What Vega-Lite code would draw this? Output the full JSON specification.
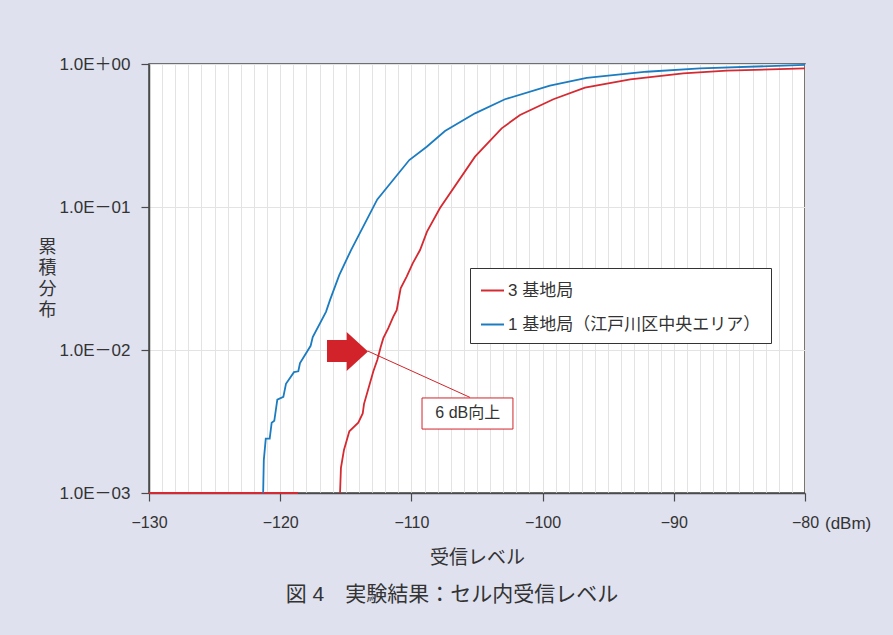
{
  "$schema": "https://vega.github.io/schema/vega-lite/v6.json",
  "width": 656,
  "height": 429,
  "autosize": {"type": "none"},
  "padding": {"left": 149, "top": 64, "right": 88, "bottom": 142},
  "background": "#dfe1ef",
  "config": {
    "view": {"fill": "white", "stroke": "#4a4a4a", "strokeWidth": 1.5},
    "font": "Liberation Sans, Noto Sans CJK JP, sans-serif"
  },
  "title": {
    "text": "図 4　実験結果：セル内受信レベル",
    "orient": "bottom",
    "anchor": "middle",
    "font": "Liberation Sans, Noto Sans CJK JP, sans-serif",
    "fontSize": 21,
    "fontWeight": "normal",
    "color": "#333333",
    "offset": 17,
    "dx": -25
  },
  "datasets": {
    "curves": [
      {"x": -130, "y": 0.001, "series": "3 基地局", "seg": "r0"},
      {"x": -118.64, "y": 0.001, "series": "3 基地局", "seg": "r0"},
      {"x": -115.44, "y": 0.001, "series": "3 基地局", "seg": "r1"},
      {"x": -115.37, "y": 0.0015, "series": "3 基地局", "seg": "r1"},
      {"x": -115.14, "y": 0.0020, "series": "3 基地局", "seg": "r1"},
      {"x": -114.73, "y": 0.0027, "series": "3 基地局", "seg": "r1"},
      {"x": -114.05, "y": 0.0031, "series": "3 基地局", "seg": "r1"},
      {"x": -113.71, "y": 0.0036, "series": "3 基地局", "seg": "r1"},
      {"x": -113.61, "y": 0.0042, "series": "3 基地局", "seg": "r1"},
      {"x": -112.9, "y": 0.0071, "series": "3 基地局", "seg": "r1"},
      {"x": -112.6, "y": 0.0085, "series": "3 基地局", "seg": "r1"},
      {"x": -112.34, "y": 0.0105, "series": "3 基地局", "seg": "r1"},
      {"x": -112.14, "y": 0.0121, "series": "3 基地局", "seg": "r1"},
      {"x": -111.76, "y": 0.0142, "series": "3 基地局", "seg": "r1"},
      {"x": -111.38, "y": 0.0171, "series": "3 基地局", "seg": "r1"},
      {"x": -111.12, "y": 0.019, "series": "3 基地局", "seg": "r1"},
      {"x": -110.82, "y": 0.027, "series": "3 基地局", "seg": "r1"},
      {"x": -110.36, "y": 0.0326, "series": "3 基地局", "seg": "r1"},
      {"x": -109.9, "y": 0.0404, "series": "3 基地局", "seg": "r1"},
      {"x": -109.34, "y": 0.05, "series": "3 基地局", "seg": "r1"},
      {"x": -108.81, "y": 0.0672, "series": "3 基地局", "seg": "r1"},
      {"x": -107.82, "y": 0.0984, "series": "3 基地局", "seg": "r1"},
      {"x": -105.15, "y": 0.225, "series": "3 基地局", "seg": "r1"},
      {"x": -103.12, "y": 0.355, "series": "3 基地局", "seg": "r1"},
      {"x": -101.72, "y": 0.44, "series": "3 基地局", "seg": "r1"},
      {"x": -99.18, "y": 0.567, "series": "3 基地局", "seg": "r1"},
      {"x": -96.77, "y": 0.683, "series": "3 基地局", "seg": "r1"},
      {"x": -93.32, "y": 0.782, "series": "3 基地局", "seg": "r1"},
      {"x": -89.28, "y": 0.861, "series": "3 基地局", "seg": "r1"},
      {"x": -85.97, "y": 0.898, "series": "3 基地局", "seg": "r1"},
      {"x": -80.0, "y": 0.933, "series": "3 基地局", "seg": "r1"},
      {"x": -121.3, "y": 0.001, "series": "1 基地局（江戸川区中央エリア）", "seg": "b1"},
      {"x": -121.25, "y": 0.0017, "series": "1 基地局（江戸川区中央エリア）", "seg": "b1"},
      {"x": -121.1, "y": 0.0024, "series": "1 基地局（江戸川区中央エリア）", "seg": "b1"},
      {"x": -120.8, "y": 0.0024, "series": "1 基地局（江戸川区中央エリア）", "seg": "b1"},
      {"x": -120.65, "y": 0.0031, "series": "1 基地局（江戸川区中央エリア）", "seg": "b1"},
      {"x": -120.45, "y": 0.0032, "series": "1 基地局（江戸川区中央エリア）", "seg": "b1"},
      {"x": -120.22, "y": 0.0045, "series": "1 基地局（江戸川区中央エリア）", "seg": "b1"},
      {"x": -119.76, "y": 0.0047, "series": "1 基地局（江戸川区中央エリア）", "seg": "b1"},
      {"x": -119.56, "y": 0.0058, "series": "1 基地局（江戸川区中央エリア）", "seg": "b1"},
      {"x": -118.95, "y": 0.0070, "series": "1 基地局（江戸川区中央エリア）", "seg": "b1"},
      {"x": -118.62, "y": 0.0071, "series": "1 基地局（江戸川区中央エリア）", "seg": "b1"},
      {"x": -118.49, "y": 0.0081, "series": "1 基地局（江戸川区中央エリア）", "seg": "b1"},
      {"x": -117.68, "y": 0.0107, "series": "1 基地局（江戸川区中央エリア）", "seg": "b1"},
      {"x": -117.52, "y": 0.0123, "series": "1 基地局（江戸川区中央エリア）", "seg": "b1"},
      {"x": -116.51, "y": 0.0185, "series": "1 基地局（江戸川区中央エリア）", "seg": "b1"},
      {"x": -116.2, "y": 0.0224, "series": "1 基地局（江戸川区中央エリア）", "seg": "b1"},
      {"x": -115.5, "y": 0.0334, "series": "1 基地局（江戸川区中央エリア）", "seg": "b1"},
      {"x": -114.6, "y": 0.05, "series": "1 基地局（江戸川区中央エリア）", "seg": "b1"},
      {"x": -112.6, "y": 0.113, "series": "1 基地局（江戸川区中央エリア）", "seg": "b1"},
      {"x": -110.16, "y": 0.213, "series": "1 基地局（江戸川区中央エリア）", "seg": "b1"},
      {"x": -108.83, "y": 0.264, "series": "1 基地局（江戸川区中央エリア）", "seg": "b1"},
      {"x": -107.44, "y": 0.34, "series": "1 基地局（江戸川区中央エリア）", "seg": "b1"},
      {"x": -105.15, "y": 0.452, "series": "1 基地局（江戸川区中央エリア）", "seg": "b1"},
      {"x": -102.87, "y": 0.567, "series": "1 基地局（江戸川区中央エリア）", "seg": "b1"},
      {"x": -99.44, "y": 0.705, "series": "1 基地局（江戸川区中央エリア）", "seg": "b1"},
      {"x": -96.64, "y": 0.80, "series": "1 基地局（江戸川区中央エリア）", "seg": "b1"},
      {"x": -92.07, "y": 0.883, "series": "1 基地局（江戸川区中央エリア）", "seg": "b1"},
      {"x": -88.0, "y": 0.933, "series": "1 基地局（江戸川区中央エリア）", "seg": "b1"},
      {"x": -80.0, "y": 0.985, "series": "1 基地局（江戸川区中央エリア）", "seg": "b1"}
    ],
    "arrow": [{"x": -114.87, "y": 0.00976}],
    "leader": [{"x": -113.33, "y": 0.00984, "x2": -105.53, "y2": 0.00466}],
    "box": [{"x": -109.19, "x2": -102.26, "y": 0.00462, "y2": 0.0028, "label": "6 dB向上", "tx": -105.7, "ty": 0.0036}],
    "unit": [{"x": -80, "y": 0.001, "label": "(dBm)"}]
  },
  "layer": [
    {
      "data": {"name": "curves"},
      "mark": {"type": "line", "strokeWidth": 1.8, "interpolate": "linear"},
      "encoding": {
        "x": {
          "field": "x", "type": "quantitative",
          "scale": {"domain": [-130, -80], "nice": false, "zero": false},
          "axis": {
            "values": [-130,-129,-128,-127,-126,-125,-124,-123,-122,-121,-120,-119,-118,-117,-116,-115,-114,-113,-112,-111,-110,-109,-108,-107,-106,-105,-104,-103,-102,-101,-100,-99,-98,-97,-96,-95,-94,-93,-92,-91,-90,-89,-88,-87,-86,-85,-84,-83,-82,-81,-80],
            "tickCount": 100,
            "format": "d",
            "grid": true,
            "gridColor": "#e3e3e3",
            "gridWidth": 1,
            "tickSize": 8,
            "tickColor": "#4a4a4a",
            "tickWidth": 1.2,
            "tickOpacity": {"condition": {"test": "datum.value % 10 !== 0", "value": 0}, "value": 1},
            "labelExpr": "datum.value % 10 === 0 ? datum.label : ''",
            "labelFontSize": 16,
            "labelColor": "#333333",
            "labelPadding": 13,
            "labelFlush": false,
            "labelOverlap": false,
            "domainColor": "#4a4a4a",
            "domainWidth": 1.5,
            "title": "受信レベル",
            "titleFontSize": 19,
            "titleFontWeight": "normal",
            "titleColor": "#333333",
            "titleBaseline": "middle",
            "titleY": 64
          }
        },
        "y": {
          "field": "y", "type": "quantitative",
          "scale": {"type": "log", "domain": [0.001, 1], "nice": false},
          "axis": {
            "values": [0.001, 0.01, 0.1, 1],
            "tickCount": 10,
            "grid": true,
            "gridColor": "#e3e3e3",
            "gridWidth": 1.2,
            "tickSize": 8,
            "tickColor": "#4a4a4a",
            "tickWidth": 1.2,
            "labelExpr": "datum.value >= 1 ? '1.0E＋00' : '1.0E－0' + format(-log(datum.value) / LN10, '.0f')",
            "labelFontSize": 17,
            "labelColor": "#333333",
            "labelPadding": 11,
            "domainColor": "#4a4a4a",
            "domainWidth": 1.5,
            "title": ["累", "積", "分", "布"],
            "titleAngle": 0,
            "titleX": -102,
            "titleY": 174,
            "titleAlign": "center",
            "titleBaseline": "top",
            "titleLineHeight": 21,
            "titleFontSize": 18,
            "titleFontWeight": "normal",
            "titleColor": "#333333"
          }
        },
        "color": {
          "field": "series", "type": "nominal",
          "scale": {"domain": ["3 基地局", "1 基地局（江戸川区中央エリア）"], "range": ["#d52a31", "#1b7cc1"]},
          "legend": {
            "title": null,
            "orient": "none",
            "legendX": 321,
            "legendY": 204,
            "symbolType": "stroke",
            "symbolSize": 529,
            "symbolStrokeWidth": 2,
            "labelFontSize": 17,
            "labelColor": "#333333",
            "labelOffset": 3,
            "labelLimit": 400,
            "padding": 10,
            "rowPadding": 13,
            "strokeColor": "#333333",
            "fillColor": "white"
          }
        },
        "detail": {"field": "seg", "type": "nominal"}
      }
    },
    {
      "data": {"name": "arrow"},
      "mark": {"type": "point", "filled": true, "opacity": 1, "size": 1681, "color": "#d2232a",
               "shape": "M -1 -0.56 L -0.04 -0.56 L -0.04 -0.95 L 1 0 L -0.04 0.95 L -0.04 0.51 L -1 0.51 Z"},
      "encoding": {
        "x": {"field": "x", "type": "quantitative", "scale": {"domain": [-130, -80], "nice": false, "zero": false}},
        "y": {"field": "y", "type": "quantitative", "scale": {"type": "log", "domain": [0.001, 1], "nice": false}}
      }
    },
    {
      "data": {"name": "leader"},
      "mark": {"type": "rule", "color": "#d2232a", "strokeWidth": 1},
      "encoding": {
        "x": {"field": "x", "type": "quantitative", "scale": {"domain": [-130, -80], "nice": false, "zero": false}},
        "y": {"field": "y", "type": "quantitative", "scale": {"type": "log", "domain": [0.001, 1], "nice": false}},
        "x2": {"field": "x2"},
        "y2": {"field": "y2"}
      }
    },
    {
      "data": {"name": "box"},
      "mark": {"type": "rect", "fill": "white", "stroke": "#d2232a", "strokeWidth": 1},
      "encoding": {
        "x": {"field": "x", "type": "quantitative", "scale": {"domain": [-130, -80], "nice": false, "zero": false}},
        "y": {"field": "y", "type": "quantitative", "scale": {"type": "log", "domain": [0.001, 1], "nice": false}},
        "x2": {"field": "x2"},
        "y2": {"field": "y2"}
      }
    },
    {
      "data": {"name": "box"},
      "mark": {"type": "text", "fontSize": 16, "color": "#333333", "align": "center", "baseline": "middle"},
      "encoding": {
        "x": {"field": "tx", "type": "quantitative", "scale": {"domain": [-130, -80], "nice": false, "zero": false}},
        "y": {"field": "ty", "type": "quantitative", "scale": {"type": "log", "domain": [0.001, 1], "nice": false}},
        "text": {"field": "label"}
      }
    },
    {
      "data": {"name": "unit"},
      "mark": {"type": "text", "fontSize": 17, "color": "#333333", "align": "left", "baseline": "middle", "dx": 20, "dy": 31},
      "encoding": {
        "x": {"field": "x", "type": "quantitative", "scale": {"domain": [-130, -80], "nice": false, "zero": false}},
        "y": {"field": "y", "type": "quantitative", "scale": {"type": "log", "domain": [0.001, 1], "nice": false}},
        "text": {"field": "label"}
      }
    }
  ]
}
